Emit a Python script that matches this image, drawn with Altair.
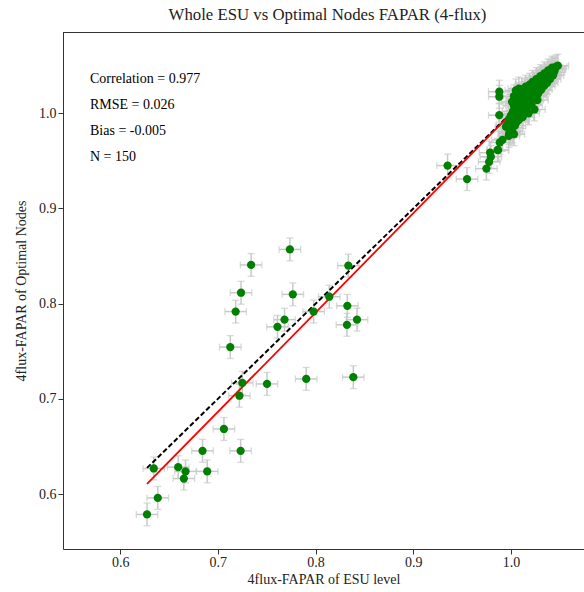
import altair as alt
import pandas as pd

# ---- data ----
esu_x = [0.6275, 0.6385, 0.6344, 0.6594, 0.6669, 0.6652, 0.6891, 0.6843, 0.7062, 0.7233,
         0.7220, 0.7250, 0.7503, 0.7904, 0.8386, 0.7127, 0.7610, 0.7682, 0.7980, 0.8140,
         0.8325, 0.8321, 0.8424, 0.7182, 0.7237, 0.7340, 0.7767, 0.7737, 0.8335, 0.9351,
         0.9550,
         # cluster near 1.0
         1.000, 1.002, 1.004, 1.006, 1.008, 1.010, 1.012, 1.014, 1.016, 1.018,
         1.020, 1.022, 1.024, 1.026, 1.028, 1.030, 1.032, 1.034, 1.036, 1.038,
         1.040, 1.042, 1.044, 1.046, 1.048,
         1.001, 1.003, 1.005, 1.008, 1.011, 1.014, 1.017, 1.003, 1.006, 1.009,
         1.012, 1.015, 1.019, 1.022, 1.026, 1.030, 1.034, 1.038, 1.042,
         1.010, 1.013, 1.016, 1.019, 1.022, 1.025, 1.028, 1.031, 1.034, 1.037,
         1.040, 1.043, 1.024, 1.018, 1.012, 1.008, 1.004, 1.015, 1.021, 1.027,
         1.005, 1.007, 1.010, 1.013, 1.016, 1.018, 1.020, 1.023, 1.025, 1.027,
         1.029, 1.032, 1.035, 1.039, 1.011, 1.009, 1.002, 1.000, 0.998, 1.001,
         0.996, 1.006, 0.999, 1.003,
         0.9948, 0.9981, 0.9913, 0.9862, 0.9794, 0.9748, 0.9776, 0.9786, 0.9868, 0.9885,
         0.9977, 1.0012,
         0.988, 0.988, 0.988,
         1.013, 1.017, 1.021, 1.024, 1.028, 1.031, 1.035, 1.037, 1.041, 1.045,
         1.007, 1.020, 1.026, 1.033, 1.016, 1.044]
opt_y = [0.5786, 0.5960, 0.6269, 0.6283, 0.6238, 0.6163, 0.6238, 0.6454, 0.6684, 0.6454,
         0.7033, 0.7168, 0.7157, 0.7210, 0.7228, 0.7544, 0.7757, 0.7832, 0.7917, 0.8073,
         0.7977, 0.7778, 0.7832, 0.7917, 0.8115, 0.8407, 0.8098, 0.8570, 0.8400, 0.9451,
         0.9309,
         0.990, 0.995, 0.999, 1.003, 1.006, 1.009, 1.012, 1.015, 1.017, 1.020,
         1.022, 1.025, 1.027, 1.029, 1.032, 1.034, 1.036, 1.038, 1.040, 1.042,
         1.044, 1.046, 1.047, 1.049, 1.050,
         1.012, 1.018, 1.024, 1.026, 1.025, 1.024, 1.026, 1.008, 1.015, 1.019,
         1.021, 1.028, 1.030, 1.033, 1.036, 1.039, 1.042, 1.045, 1.048,
         1.001, 1.004, 1.008, 1.011, 1.014, 1.018, 1.021, 1.025, 1.029, 1.032,
         1.036, 1.040, 1.004, 1.000, 0.996, 0.993, 0.987, 1.005, 1.009, 1.014,
         1.010, 1.013, 1.015, 1.009, 1.012, 1.015, 1.017, 1.020, 1.023, 1.025,
         1.028, 1.031, 1.034, 1.039, 1.017, 1.011, 1.002, 0.998, 0.994, 0.985,
         0.988, 0.991, 0.980, 0.978,
         0.9859, 0.9790, 0.9720, 0.9615, 0.9544, 0.9419, 0.9490, 0.9586, 0.9614, 0.9693,
         0.9763, 0.9810,
         1.0227, 1.0174, 0.9980,
         1.019, 1.022, 1.027, 1.031, 1.034, 1.037, 1.037, 1.036, 1.041, 1.046,
         1.020, 1.012, 1.019, 1.033, 1.006, 1.043]
x_err = [0.011] * len(esu_x)
y_err = [0.012] * len(opt_y)

line_x = [0.6275, 1.048]
one_to_one_y = [0.6275, 1.048]
fit_y = [0.6106, 1.0496]

stats_lines = ["Correlation = 0.977", "RMSE = 0.026", "Bias = -0.005", "N = 150"]
tick_vals = [0.6, 0.7, 0.8, 0.9, 1.0]

FONT = "Liberation Serif"
TXT = "#222222"
AX = "#333333"

df = pd.DataFrame({"x": esu_x, "y": opt_y, "xe": x_err, "ye": y_err})
lines_df = pd.DataFrame({"x": line_x * 2,
                         "y": one_to_one_y + fit_y,
                         "kind": ["1:1"] * 2 + ["fit"] * 2})

xs = alt.Scale(domain=[0.5415, 1.0747], nice=False, zero=False)
ys = alt.Scale(domain=[0.5423, 1.0854], nice=False, zero=False)

xaxis = alt.Axis(values=tick_vals, format=".1f", grid=False, title="4flux-FAPAR of ESU level",
                 labelFont=FONT, labelFontSize=14, labelColor=TXT, titleFont=FONT,
                 titleFontSize=14, titleColor=TXT, titleFontWeight="normal",
                 domainColor=AX, tickColor=AX, tickSize=5, labelPadding=1, titlePadding=3)
yaxis = alt.Axis(values=tick_vals, format=".1f", grid=False, title="4flux-FAPAR of Optimal Nodes",
                 labelFont=FONT, labelFontSize=14, labelColor=TXT, titleFont=FONT,
                 titleFontSize=14, titleColor=TXT, titleFontWeight="normal",
                 domainColor=AX, tickColor=AX, tickSize=5, labelPadding=2, titlePadding=10)

base = alt.Chart(df).transform_calculate(
    xl="datum.x - datum.xe", xh="datum.x + datum.xe",
    yl="datum.y - datum.ye", yh="datum.y + datum.ye")

GRAY = "#c9c9c9"
hbar = base.mark_rule(color=GRAY, strokeWidth=1.5).encode(
    x=alt.X("xl:Q", scale=xs, axis=xaxis), x2="xh:Q", y=alt.Y("y:Q", scale=ys, axis=yaxis))
vbar = base.mark_rule(color=GRAY, strokeWidth=1.5).encode(
    x=alt.X("x:Q", scale=xs), y=alt.Y("yl:Q", scale=ys), y2="yh:Q")
cap_l = base.mark_tick(color=GRAY, orient="vertical", size=7, thickness=1.3).encode(
    x=alt.X("xl:Q", scale=xs), y=alt.Y("y:Q", scale=ys))
cap_r = base.mark_tick(color=GRAY, orient="vertical", size=7, thickness=1.3).encode(
    x=alt.X("xh:Q", scale=xs), y=alt.Y("y:Q", scale=ys))
cap_b = base.mark_tick(color=GRAY, orient="horizontal", size=7, thickness=1.3).encode(
    x=alt.X("x:Q", scale=xs), y=alt.Y("yl:Q", scale=ys))
cap_t = base.mark_tick(color=GRAY, orient="horizontal", size=7, thickness=1.3).encode(
    x=alt.X("x:Q", scale=xs), y=alt.Y("yh:Q", scale=ys))

ref_line = alt.Chart(lines_df).transform_filter("datum.kind == '1:1'").mark_line(
    color="black", strokeWidth=2, strokeDash=[5, 2.5]).encode(
    x=alt.X("x:Q", scale=xs), y=alt.Y("y:Q", scale=ys))
fit_line = alt.Chart(lines_df).transform_filter("datum.kind == 'fit'").mark_line(
    color="#ff0000", strokeWidth=1.8).encode(
    x=alt.X("x:Q", scale=xs), y=alt.Y("y:Q", scale=ys))

pts = alt.Chart(df).mark_circle(color="#008000", opacity=1, size=68).encode(
    x=alt.X("x:Q", scale=xs), y=alt.Y("y:Q", scale=ys))

one = pd.DataFrame({"a": [0]})
# top frame edge of the axes box
top_edge = alt.Chart(one).mark_rule(color=AX, strokeWidth=1).encode(
    x=alt.value(0), x2=alt.value(521), y=alt.value(0.5))

stats = alt.Chart(one).mark_text(
    align="left", baseline="middle", font=FONT, fontSize=14, color="black",
    lineHeight=26).encode(
    x=alt.value(27), y=alt.value(46.5), text=alt.value(stats_lines))

chart = alt.layer(hbar, vbar, cap_l, cap_r, cap_b, cap_t, ref_line, fit_line, pts,
                  top_edge, stats).properties(
    width=521, height=517,
    autosize=alt.AutoSizeParams(type="none"),
    padding={"left": 63, "top": 32, "right": 0, "bottom": 43},
    title=alt.TitleParams("Whole ESU vs Optimal Nodes FAPAR (4-flux)", font=FONT, fontSize=16.8,
                          fontWeight="normal", color=TXT, anchor="middle", offset=8, dx=4),
    background="white",
).configure_view(stroke=None)

chart.save("out.html", embed_options={"renderer": "svg", "actions": False})
